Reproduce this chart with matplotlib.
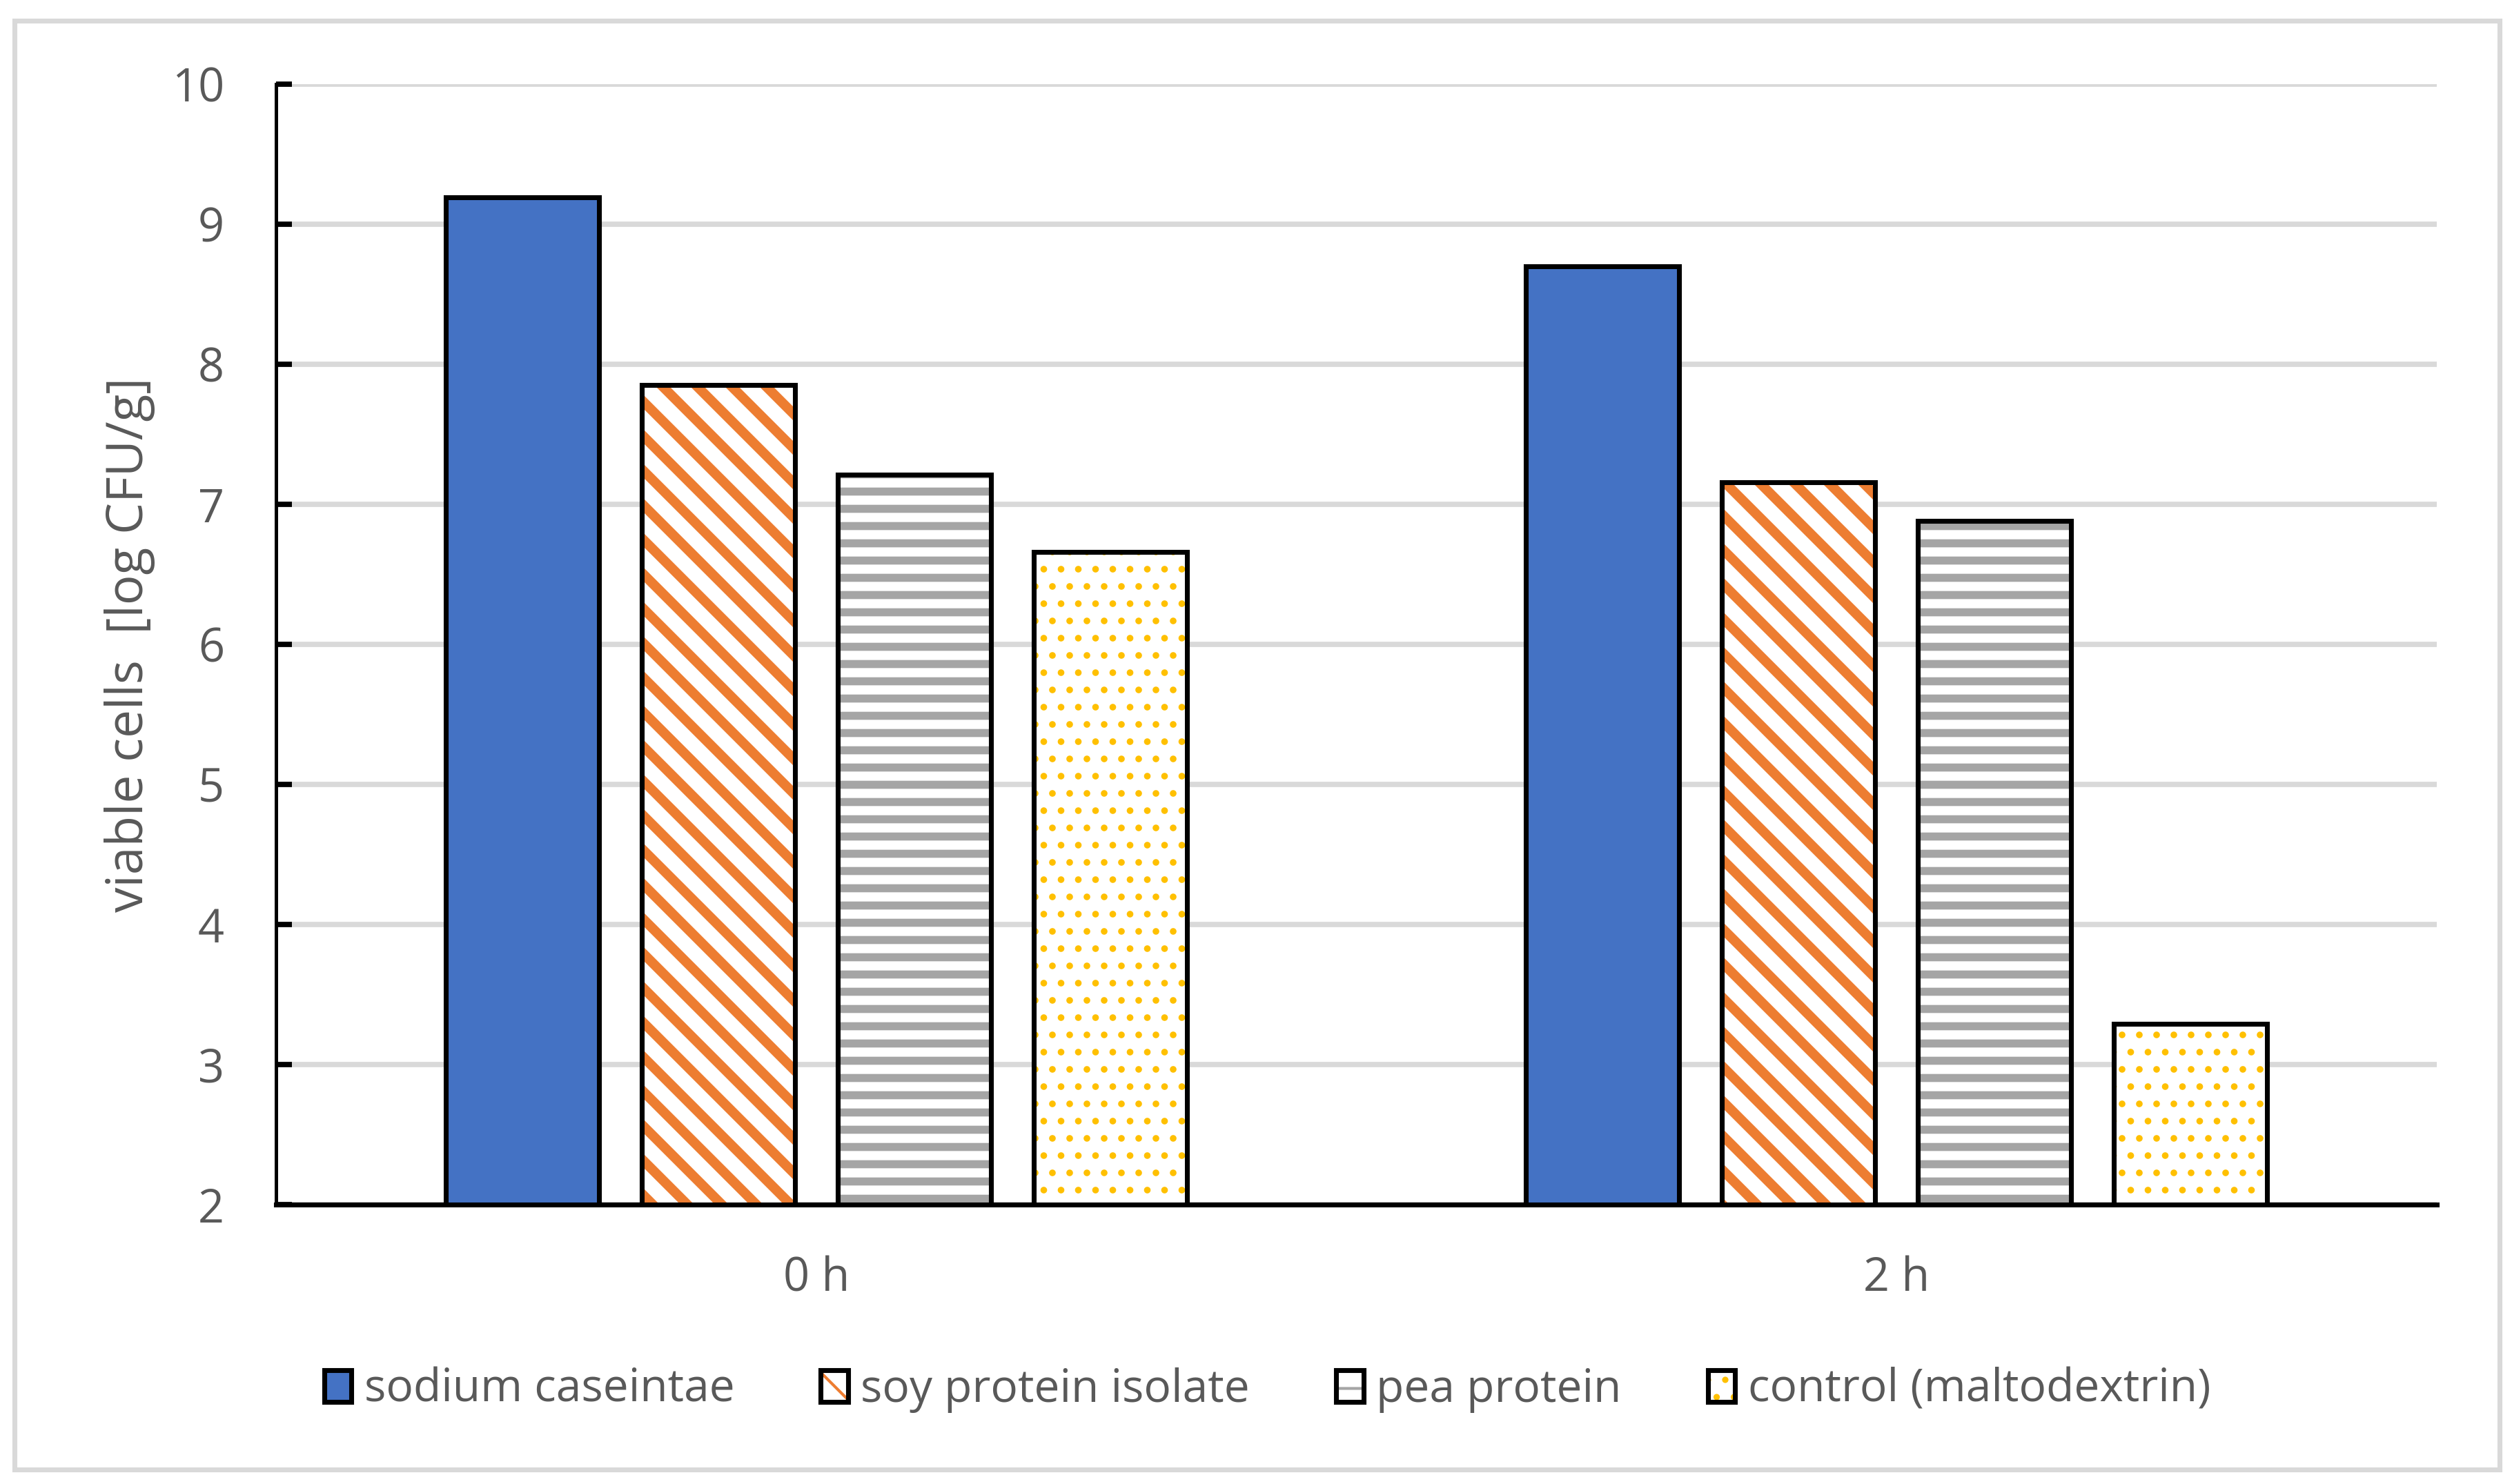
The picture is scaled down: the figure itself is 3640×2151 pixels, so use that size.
import numpy as np
import matplotlib.pyplot as plt
from matplotlib.patches import Rectangle

# ----------------------------------------------------------------------
# data
categories = ["0 h", "2 h"]
series = ["sodium caseintae", "soy protein isolate", "pea protein",
          "control (maltodextrin)"]
sodium_caseinate = [9.19, 8.70]
soy_protein = [7.85, 7.16]
pea_protein = [7.21, 6.88]
control = [6.66, 3.29]
y_ticks = [2, 3, 4, 5, 6, 7, 8, 9, 10]

values = [sodium_caseinate, soy_protein, pea_protein, control]

# style per series: (fill, hatch colour, hatch, hatch linewidth)
styles = [
    ("#4472C4", "#4472C4", None, 1.0),
    ("white", "#ED7D31", "\\\\", 3.4),
    ("white", "#A5A5A5", "--", 2.8),
    ("white", "#FFC000", "..", 1.1),
]

TEXT = "#595959"
GRID = "#D9D9D9"

plt.rcParams["font.family"] = ["Open Sans", "DejaVu Sans"]
plt.rcParams["font.size"] = 16

W, H, DPI = 3640, 2151, 300
fig = plt.figure(figsize=(W / DPI, H / DPI), dpi=DPI)

# outer chart border
fig.add_artist(Rectangle((21 / W, 1 - 2130 / H), 3601 / W, 2100 / H,
                         transform=fig.transFigure, fill=False,
                         edgecolor=GRID, linewidth=1.7))

ax = fig.add_axes([400 / W, 1 - 1746 / H, 3131 / W, 1624 / H])

x = np.arange(len(categories))
bar_w = 0.1418
step = 0.1814

handles = []
for i, (vals, (fc, hc, hatch, hlw)) in enumerate(zip(values, styles)):
    pos = x + (i - 1.5) * step
    # hatch layer (hatch colour comes from edgecolor, edge not drawn)
    fill = ax.bar(pos, vals, bar_w, color=fc, edgecolor=hc, hatch=hatch,
                  linewidth=0, zorder=2)
    for p in fill:
        if hasattr(p, "set_hatch_linewidth"):
            p.set_hatch_linewidth(hlw)
    # black outline on top
    edge = ax.bar(pos, vals, bar_w, color="none", edgecolor="black",
                  linewidth=1.7, zorder=2.1)
    handles.append((fill[0], edge[0]))

ax.set_xlim(-0.5, len(categories) - 0.5)
ax.set_ylim(2, 10)
ax.set_yticks(y_ticks)
ax.set_xticks(x)
ax.set_xticklabels(categories)

ax.set_axisbelow(True)
ax.yaxis.grid(True, color=GRID, linewidth=1.85)
ax.xaxis.grid(False)

for s in ["top", "right"]:
    ax.spines[s].set_visible(False)
ax.spines["left"].set_linewidth(1.2)
ax.spines["bottom"].set_linewidth(1.7)
ax.spines["left"].set_zorder(3)
ax.spines["bottom"].set_zorder(3)

ax.tick_params(axis="y", direction="in", length=5.5, width=1.85,
               color="black", pad=18, labelcolor=TEXT, labelsize=16)
ax.tick_params(axis="x", length=0, pad=17.7, labelcolor=TEXT, labelsize=16)

ax.set_ylabel("viable cells  [log CFU/g]", color=TEXT, fontsize=17.5)
ax.yaxis.set_label_coords(-0.056, 0.5)

fig.legend(handles, series, loc="center",
           bbox_to_anchor=(0.5045, 1 - 2015 / H), ncol=4, frameon=False,
           fontsize=15.8, labelcolor=TEXT, handlelength=0.6, handleheight=0.7,
           handletextpad=0.28, columnspacing=1.9, borderaxespad=0)

fig.savefig("out.png", dpi=DPI)
